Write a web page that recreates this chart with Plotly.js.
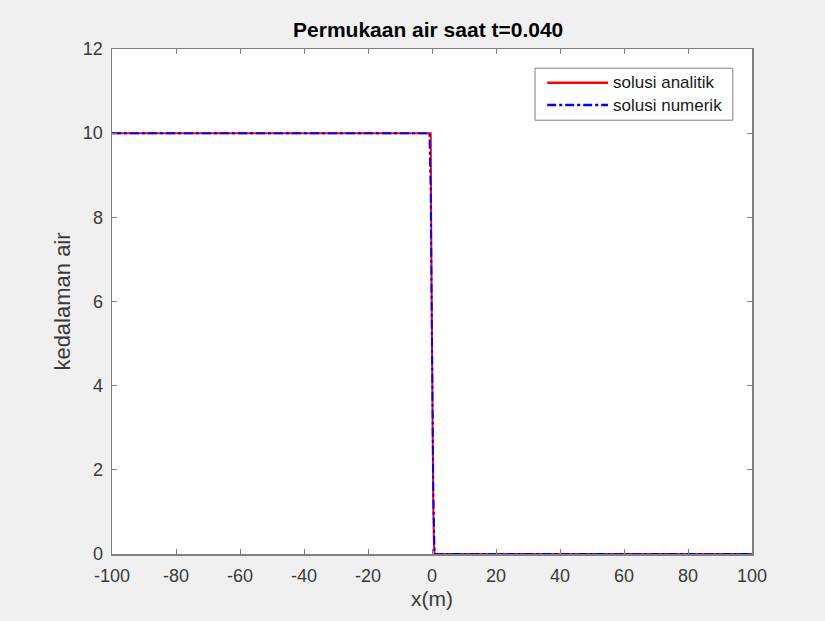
<!DOCTYPE html>
<html>
<head>
<meta charset="utf-8">
<script src="https://cdn.plot.ly/plotly-3.0.1.min.js"></script>
<style>html,body{margin:0;padding:0;background:#f0f0f0;}</style>
</head>
<body>
<div id="chart" style="width:825px;height:621px;"></div>
<script>
// Analytic solution (dam break, t = 0.040 s)
var xAnalytic = [-100, -0.4, -0.2, 0, 0.2, 0.4, 0.6, 0.79, 100];
var hAnalytic = [10, 10, 6.97, 4.44, 2.48, 1.09, 0.26, 0, 0];
// Numerical solution
var xNumeric = [-100, -0.8, -0.4, 0, 0.4, 0.8, 100];
var hNumeric = [10, 10, 8.6, 5.0, 1.5, 0, 0];

// Tick values / labels
var xTickVals = [-100, -80, -60, -40, -20, 0, 20, 40, 60, 80, 100];
var xTickText = ['-100', '-80', '-60', '-40', '-20', '0', '20', '40', '60', '80', '100'];
var yTickVals = [0, 2, 4, 6, 8, 10, 12];
var yTickText = ['0', '2', '4', '6', '8', '10', '12'];

var titleText = 'Permukaan air saat t=0.040';
var xLabel = 'x(m)';
var yLabel = 'kedalaman air';
var names = ['solusi analitik', 'solusi numerik'];
var colors = ['#ff0000', '#0000ff'];
var dashes = ['solid', 'dashdot'];

var fontFam = 'Liberation Sans, Arial, Helvetica, sans-serif';
var axisColor = '#808080';
var textColor = '#3a3a3a';

var data = [
  {x: xAnalytic, y: hAnalytic, mode: 'lines', name: names[0],
   line: {color: colors[0], width: 2, dash: dashes[0]}},
  {x: xNumeric, y: hNumeric, mode: 'lines', name: names[1],
   line: {color: colors[1], width: 2, dash: dashes[1]}}
];

var axisCommon = {
  showline: true, linecolor: axisColor, linewidth: 1.5, mirror: 'ticks',
  ticks: 'inside', ticklen: 5, tickcolor: axisColor, tickwidth: 1,
  showgrid: false, zeroline: false, tickmode: 'array',
  tickfont: {family: fontFam, size: 18, color: textColor}
};

// Custom legend (box, line samples, labels) in paper coordinates
var legBox = {x0: 0.661, x1: 0.970, y0: 0.859, y1: 0.962};
var legRowsY = [0.933, 0.889];
var legLineX = [0.680, 0.775];
var legTextX = 0.779;

var shapes = [{type: 'rect', xref: 'paper', yref: 'paper',
  x0: legBox.x0, x1: legBox.x1, y0: legBox.y0, y1: legBox.y1,
  line: {color: '#7f7f7f', width: 1}, fillcolor: '#ffffff', layer: 'above'}];
var annotations = [];
for (var i = 0; i < names.length; i++) {
  shapes.push({type: 'line', xref: 'paper', yref: 'paper',
    x0: legLineX[0], x1: legLineX[1], y0: legRowsY[i], y1: legRowsY[i],
    line: {color: colors[i], width: 2.5, dash: dashes[i]}, layer: 'above'});
  annotations.push({xref: 'paper', yref: 'paper', x: legTextX, y: legRowsY[i],
    xanchor: 'left', yanchor: 'middle', showarrow: false, text: names[i],
    font: {family: fontFam, size: 17, color: '#1a1a1a'}});
}

var layout = {
  width: 825, height: 621,
  paper_bgcolor: '#f0f0f0', plot_bgcolor: '#ffffff',
  margin: {l: 112, r: 73, t: 49, b: 67},
  title: {text: '<b>' + titleText + '</b>', x: 0.519, xanchor: 'center',
          y: 1 - 30 / 621, yref: 'container', yanchor: 'middle',
          font: {family: fontFam, size: 21, color: '#000000'}},
  xaxis: Object.assign({}, axisCommon, {range: [-100, 100],
          tickvals: xTickVals, ticktext: xTickText, ticklabelstandoff: 5,
          title: {text: xLabel, standoff: 6, font: {family: fontFam, size: 21, color: textColor}}}),
  yaxis: Object.assign({}, axisCommon, {range: [0, 12],
          tickvals: yTickVals, ticktext: yTickText, ticklabelstandoff: 4,
          title: {text: yLabel, standoff: 6, font: {family: fontFam, size: 22, color: textColor}}}),
  showlegend: false,
  shapes: shapes,
  annotations: annotations
};

Plotly.newPlot('chart', data, layout, {displayModeBar: false, staticPlot: true});
</script>
</body>
</html>
